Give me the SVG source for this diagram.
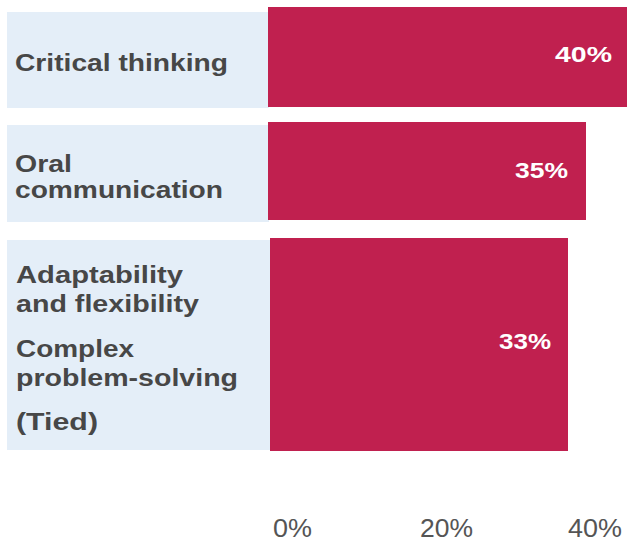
<svg xmlns="http://www.w3.org/2000/svg" width="627" height="542" viewBox="0 0 627 542">
<style>
.panel{fill:#e4eef8}
.bar{fill:#c0204f}
.lbl{font-family:"Liberation Sans",Arial,sans-serif;font-weight:bold;font-size:23px;fill:#474747}
.val{font-family:"Liberation Sans",Arial,sans-serif;font-weight:bold;font-size:22px;fill:#ffffff}
.axis{font-family:"Liberation Sans",Arial,sans-serif;font-size:26px;fill:#555555}
</style>
<rect x="0" y="0" width="627" height="542" fill="#ffffff"/>
<g id="row-critical-thinking">
<rect class="panel" x="7" y="12" width="262" height="96"/>
<rect class="bar" x="268" y="7" width="359" height="100"/>
<text class="lbl" x="15" y="71" textLength="213" lengthAdjust="spacingAndGlyphs">Critical thinking</text>
<text class="val" x="555" y="62" textLength="57" lengthAdjust="spacingAndGlyphs">40%</text>
</g>
<g id="row-oral-communication">
<rect class="panel" x="7" y="125" width="262" height="97"/>
<rect class="bar" x="268" y="122" width="318" height="98"/>
<text class="lbl" x="15" y="172" textLength="57" lengthAdjust="spacingAndGlyphs">Oral</text>
<text class="lbl" x="15" y="198" textLength="208" lengthAdjust="spacingAndGlyphs">communication</text>
<text class="val" x="515" y="178" textLength="53" lengthAdjust="spacingAndGlyphs">35%</text>
</g>
<g id="row-tied">
<rect class="panel" x="7" y="240" width="264" height="210"/>
<rect class="bar" x="270" y="238" width="298" height="213"/>
<text class="lbl" x="16" y="283" textLength="167" lengthAdjust="spacingAndGlyphs">Adaptability</text>
<text class="lbl" x="16" y="312" textLength="183" lengthAdjust="spacingAndGlyphs">and flexibility</text>
<text class="lbl" x="16" y="357" textLength="118" lengthAdjust="spacingAndGlyphs">Complex</text>
<text class="lbl" x="16" y="386" textLength="222" lengthAdjust="spacingAndGlyphs">problem-solving</text>
<text class="lbl" x="16" y="430" textLength="82" lengthAdjust="spacingAndGlyphs">(Tied)</text>
<text class="val" x="499" y="349" textLength="52" lengthAdjust="spacingAndGlyphs">33%</text>
</g>
<g id="axis">
<text class="axis" x="273" y="537" textLength="39" lengthAdjust="spacingAndGlyphs">0%</text>
<text class="axis" x="420" y="537" textLength="53" lengthAdjust="spacingAndGlyphs">20%</text>
<text class="axis" x="568" y="537" textLength="54" lengthAdjust="spacingAndGlyphs">40%</text>
</g>
<g id="connectors"></g>
</svg>
